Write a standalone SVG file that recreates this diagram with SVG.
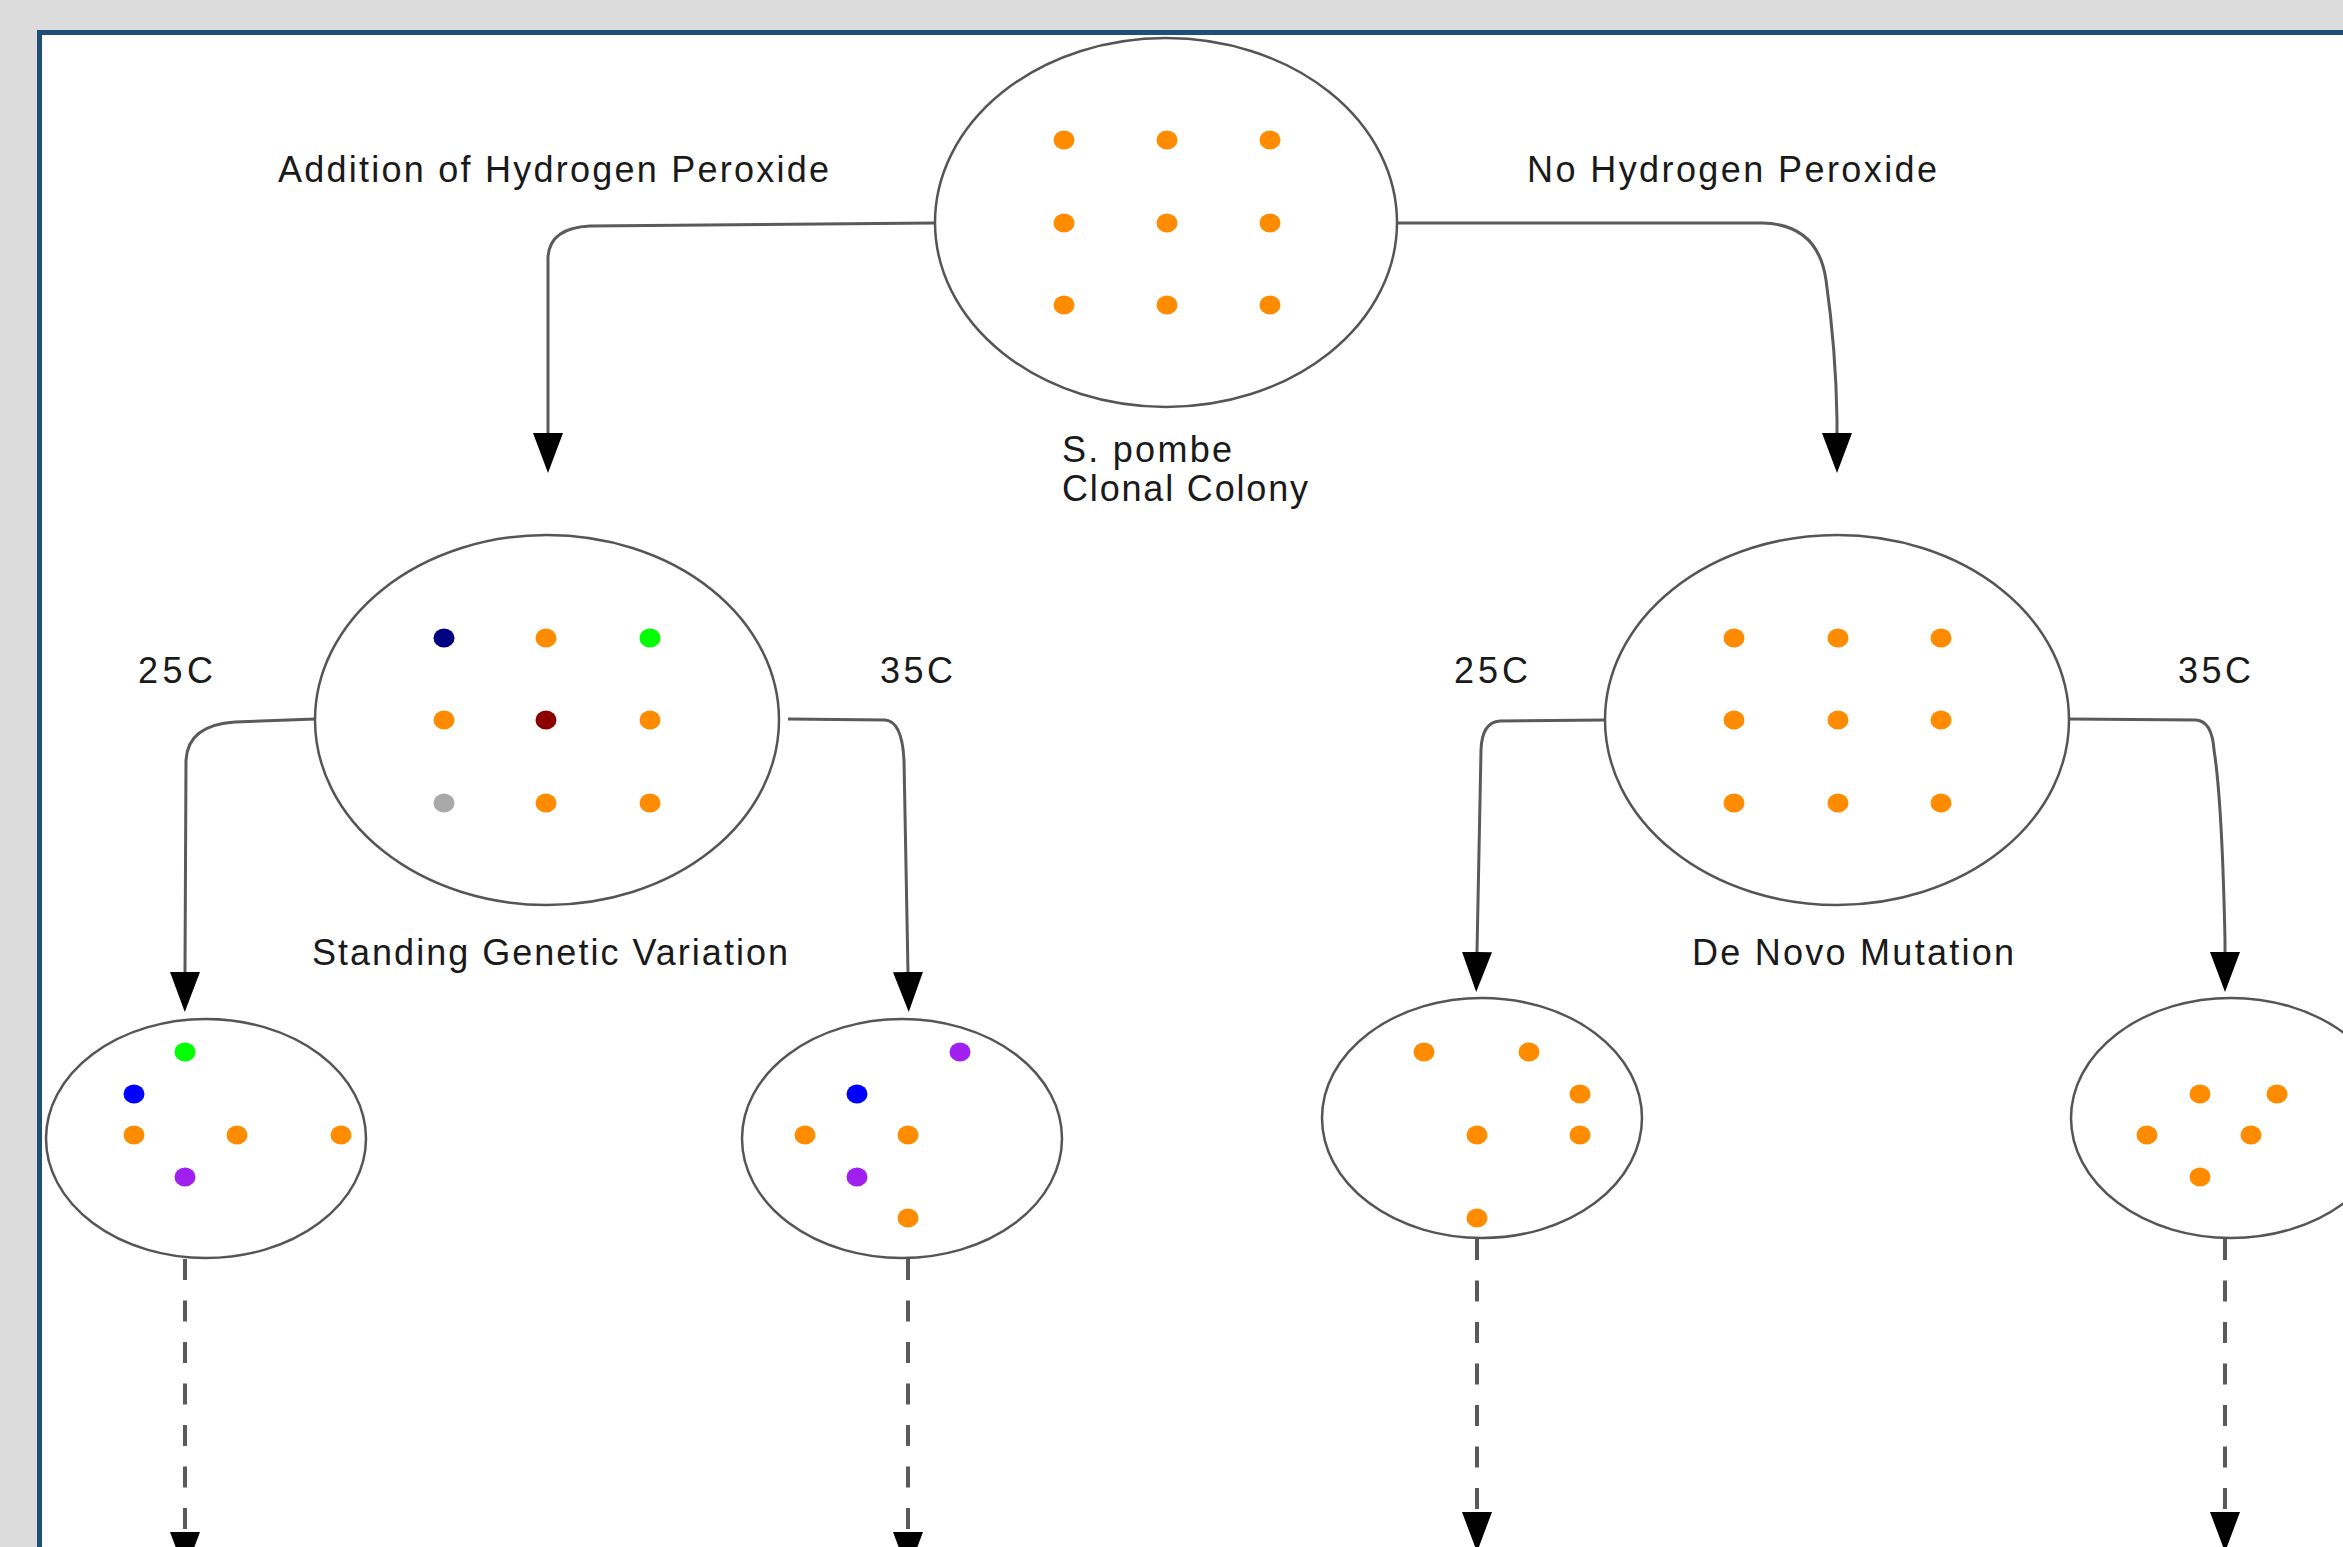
<svg xmlns="http://www.w3.org/2000/svg" width="2343" height="1547" viewBox="0 0 2343 1547">
<style>
  .bg { fill: #dcdcdc; }
  .panel { fill: #ffffff; stroke: #1f4e79; stroke-width: 5; }
  .cell { fill: #ffffff; stroke: #555555; stroke-width: 2.5; }
  .edge { fill: none; stroke: #5a5a5a; stroke-width: 3; }
  .dash { fill: none; stroke: #5a5a5a; stroke-width: 4; }
  .lbl { font-family: "Liberation Sans", Arial, sans-serif; font-size: 36px; fill: #1a1a1a; }
  .o { fill: #ff8c00; }
  .navy { fill: #000080; }
  .lime { fill: #00ff00; }
  .dred { fill: #8b0000; }
  .gry { fill: #a9a9a9; }
  .blu { fill: #0000ff; }
  .pur { fill: #a020f0; }
</style>
<defs>
  <marker id="ah" markerUnits="userSpaceOnUse" markerWidth="42" markerHeight="34" refX="0" refY="17" orient="auto" viewBox="0 0 42 34">
    <path d="M0,2 L40,17 L0,32 Z" fill="#000000"/>
  </marker>
</defs>
<rect class="bg" x="0" y="0" width="2343" height="1547"/>
<rect class="panel" x="39.5" y="32.5" width="2400" height="1600"/>

<g id="connectors">
  <path class="edge" d="M935,223 L590,226 Q549,228 548,258 L548,433" marker-end="url(#ah)"/>
  <path class="edge" d="M1397,223 L1762,223 Q1818,224 1826,280 Q1836,350 1837,420 L1837,433" marker-end="url(#ah)"/>
  <path class="edge" d="M315,719 L235,722 Q188,725 186,760 L185,972" marker-end="url(#ah)"/>
  <path class="edge" d="M788,719 L885,720 Q902,721 904,760 L908,972" marker-end="url(#ah)"/>
  <path class="edge" d="M1604,720 L1500,721 Q1482,722 1481,750 L1477,952" marker-end="url(#ah)"/>
  <path class="edge" d="M2069,719 L2196,720 Q2212,721 2214,750 Q2222,800 2225,940 L2225,952" marker-end="url(#ah)"/>
  <path class="dash" stroke-dasharray="21,20.5" d="M185,1259 L185,1532" marker-end="url(#ah)"/>
  <path class="dash" stroke-dasharray="21,20.5" d="M908,1259 L908,1532" marker-end="url(#ah)"/>
  <path class="dash" stroke-dasharray="21,20.5" d="M1477,1239 L1477,1512" marker-end="url(#ah)"/>
  <path class="dash" stroke-dasharray="21,20.5" d="M2225,1239 L2225,1512" marker-end="url(#ah)"/>
</g>

<g id="edge-labels">
  <text class="lbl" x="278" y="182" textLength="551" lengthAdjust="spacing">Addition of Hydrogen Peroxide</text>
  <text class="lbl" x="1527" y="182" textLength="410" lengthAdjust="spacing">No Hydrogen Peroxide</text>
  <text class="lbl" x="138" y="683" textLength="75" lengthAdjust="spacing">25C</text>
  <text class="lbl" x="880" y="683" textLength="73" lengthAdjust="spacing">35C</text>
  <text class="lbl" x="1454" y="683" textLength="74" lengthAdjust="spacing">25C</text>
  <text class="lbl" x="2178" y="683" textLength="73" lengthAdjust="spacing">35C</text>
</g>

<g id="colony">
  <ellipse class="cell" cx="1166" cy="222.5" rx="231" ry="184.5"/>
  <ellipse class="o" cx="1064" cy="140" rx="10.5" ry="9.5"/>
  <ellipse class="o" cx="1167" cy="140" rx="10.5" ry="9.5"/>
  <ellipse class="o" cx="1270" cy="140" rx="10.5" ry="9.5"/>
  <ellipse class="o" cx="1064" cy="223" rx="10.5" ry="9.5"/>
  <ellipse class="o" cx="1167" cy="223" rx="10.5" ry="9.5"/>
  <ellipse class="o" cx="1270" cy="223" rx="10.5" ry="9.5"/>
  <ellipse class="o" cx="1064" cy="305" rx="10.5" ry="9.5"/>
  <ellipse class="o" cx="1167" cy="305" rx="10.5" ry="9.5"/>
  <ellipse class="o" cx="1270" cy="305" rx="10.5" ry="9.5"/>
  <text class="lbl" x="1062" y="462" textLength="170" lengthAdjust="spacing">S. pombe</text>
  <text class="lbl" x="1062" y="501" textLength="246" lengthAdjust="spacing">Clonal Colony</text>
</g>

<g id="standing">
  <ellipse class="cell" cx="547" cy="720" rx="232" ry="185"/>
  <ellipse class="navy" cx="444" cy="638" rx="10.5" ry="9.5"/>
  <ellipse class="o" cx="546" cy="638" rx="10.5" ry="9.5"/>
  <ellipse class="lime" cx="650" cy="638" rx="10.5" ry="9.5"/>
  <ellipse class="o" cx="444" cy="720" rx="10.5" ry="9.5"/>
  <ellipse class="dred" cx="546" cy="720" rx="10.5" ry="9.5"/>
  <ellipse class="o" cx="650" cy="720" rx="10.5" ry="9.5"/>
  <ellipse class="gry" cx="444" cy="803" rx="10.5" ry="9.5"/>
  <ellipse class="o" cx="546" cy="803" rx="10.5" ry="9.5"/>
  <ellipse class="o" cx="650" cy="803" rx="10.5" ry="9.5"/>
  <text class="lbl" x="312" y="965" textLength="476" lengthAdjust="spacing">Standing Genetic Variation</text>
</g>

<g id="denovo">
  <ellipse class="cell" cx="1837" cy="720" rx="232" ry="185"/>
  <ellipse class="o" cx="1734" cy="638" rx="10.5" ry="9.5"/>
  <ellipse class="o" cx="1838" cy="638" rx="10.5" ry="9.5"/>
  <ellipse class="o" cx="1941" cy="638" rx="10.5" ry="9.5"/>
  <ellipse class="o" cx="1734" cy="720" rx="10.5" ry="9.5"/>
  <ellipse class="o" cx="1838" cy="720" rx="10.5" ry="9.5"/>
  <ellipse class="o" cx="1941" cy="720" rx="10.5" ry="9.5"/>
  <ellipse class="o" cx="1734" cy="803" rx="10.5" ry="9.5"/>
  <ellipse class="o" cx="1838" cy="803" rx="10.5" ry="9.5"/>
  <ellipse class="o" cx="1941" cy="803" rx="10.5" ry="9.5"/>
  <text class="lbl" x="1692" y="965" textLength="322" lengthAdjust="spacing">De Novo Mutation</text>
</g>

<g id="sgv-25c">
  <ellipse class="cell" cx="206" cy="1138.5" rx="160" ry="119.5"/>
  <ellipse class="lime" cx="185" cy="1052" rx="10.5" ry="9.5"/>
  <ellipse class="blu" cx="134" cy="1094" rx="10.5" ry="9.5"/>
  <ellipse class="o" cx="134" cy="1135" rx="10.5" ry="9.5"/>
  <ellipse class="o" cx="237" cy="1135" rx="10.5" ry="9.5"/>
  <ellipse class="o" cx="341" cy="1135" rx="10.5" ry="9.5"/>
  <ellipse class="pur" cx="185" cy="1177" rx="10.5" ry="9.5"/>
</g>

<g id="sgv-35c">
  <ellipse class="cell" cx="902" cy="1138.5" rx="160" ry="119.5"/>
  <ellipse class="pur" cx="960" cy="1052" rx="10.5" ry="9.5"/>
  <ellipse class="blu" cx="857" cy="1094" rx="10.5" ry="9.5"/>
  <ellipse class="o" cx="805" cy="1135" rx="10.5" ry="9.5"/>
  <ellipse class="o" cx="908" cy="1135" rx="10.5" ry="9.5"/>
  <ellipse class="pur" cx="857" cy="1177" rx="10.5" ry="9.5"/>
  <ellipse class="o" cx="908" cy="1218" rx="10.5" ry="9.5"/>
</g>

<g id="dnm-25c">
  <ellipse class="cell" cx="1482" cy="1118" rx="160" ry="120"/>
  <ellipse class="o" cx="1424" cy="1052" rx="10.5" ry="9.5"/>
  <ellipse class="o" cx="1529" cy="1052" rx="10.5" ry="9.5"/>
  <ellipse class="o" cx="1580" cy="1094" rx="10.5" ry="9.5"/>
  <ellipse class="o" cx="1477" cy="1135" rx="10.5" ry="9.5"/>
  <ellipse class="o" cx="1580" cy="1135" rx="10.5" ry="9.5"/>
  <ellipse class="o" cx="1477" cy="1218" rx="10.5" ry="9.5"/>
</g>

<g id="dnm-35c">
  <ellipse class="cell" cx="2231" cy="1118" rx="160" ry="120"/>
  <ellipse class="o" cx="2200" cy="1094" rx="10.5" ry="9.5"/>
  <ellipse class="o" cx="2277" cy="1094" rx="10.5" ry="9.5"/>
  <ellipse class="o" cx="2147" cy="1135" rx="10.5" ry="9.5"/>
  <ellipse class="o" cx="2251" cy="1135" rx="10.5" ry="9.5"/>
  <ellipse class="o" cx="2200" cy="1177" rx="10.5" ry="9.5"/>
</g>
</svg>
